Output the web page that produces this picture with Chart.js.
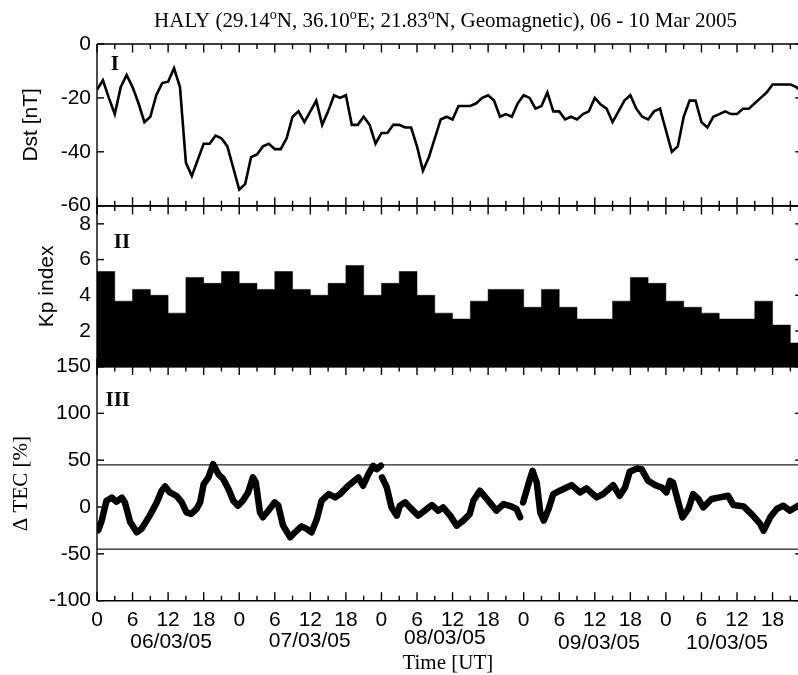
<!DOCTYPE html>
<html><head><meta charset="utf-8">
<script src="https://cdn.jsdelivr.net/npm/chart.js@4/dist/chart.umd.min.js"></script>
<style>
html,body{margin:0;padding:0;background:#fff;overflow:hidden;width:798px;height:675px}
#wrap{position:relative;width:810px;height:675px}
canvas{position:absolute;left:0;top:0}
</style></head><body>
<div id="wrap">
<canvas id="c1" width="810" height="675"></canvas>
<canvas id="c2" width="810" height="675"></canvas>
<canvas id="c3" width="810" height="675"></canvas>
</div>
<script>
// ---------- DATA ----------
// Dst [nT], hourly from 06/03/05 00 UT
const dstValues = [
 -17,-13.5,-20,-26,-16,-11.5,-16,-22,-29,-27,-19,-14.5,-14,-9,-16,-44,-49,-43,-37,-37,-34,-35,-38,-46,
 -54,-52,-42,-41,-38,-37,-39,-39,-35,-27,-25,-29,-25,-21,-30,-25,-19,-20,-19,-30,-30,-27,-30,-37,
 -33,-33,-30,-30,-31,-31,-38,-47,-42,-35,-28,-27,-28,-23,-23,-23,-22,-20,-19,-21,-27,-26,-27,-22,
 -19,-20,-24,-23,-18,-25,-25,-28,-27,-28,-26,-25,-20,-22.5,-24,-29,-25,-21,-19,-24,-27,-28,-25,-24,
 -32,-40,-38,-27,-21,-21,-29,-31,-27,-26,-25,-26,-26,-24,-24,-22,-20,-18,-15,-15,-15,-15,-16,-18
];
const dstHours = dstValues.map((v, i) => i);
const dstTicks = [0, -20, -40, -60];

// Kp index, 3-hourly bins
const kpValues = [
 5.33,3.67,4.33,4,3,5,4.67,5.33,
 4.67,4.33,5.33,4.33,4,4.67,5.67,4,
 4.67,5.33,4,3,2.67,3.67,4.33,4.33,
 3.33,4.33,3.33,2.67,2.67,3.67,5,4.67,
 3.67,3.33,3,2.67,2.67,3.67,2.33,1.33
];
const kpStartHours = kpValues.map((v, i) => 3 * i);
const kpTicks = [0, 2, 4, 6, 8];

// Delta TEC [%]
const tecHours = [
 0,0.2,0.8,1.6,2.5,3.3,4.2,4.7,5.6,6.7,7.5,8.9,10.1,10.9,11.5,12.3,13.4,14.3,15.1,15.9,16.8,17.4,
 18,18.8,19.6,20.5,21.3,22.2,23,23.8,24.6,25.5,26.3,26.8,27.5,28,28.9,30,30.6,31.4,32.6,33.4,34.5,
 35.4,36.2,37.1,37.9,39.1,40.2,41,42.4,44.1,44.9,45.8,46.6,47.2,47.9,48,
 48.1,48.9,49.7,50.6,51.1,52,52.8,54.2,55.3,56.5,57.6,58.4,59.6,60.7,61.8,62.9,63.5,64.6,65.8,
 67.4,68.6,70,70.8,71.4,71.6,
 71.9,72.8,73.5,74.2,74.8,75.4,76.2,77,78.1,80.1,81.5,82.6,84.3,85.4,87.1,88.2,89.1,89.9,91.1,
 91.9,93,94.2,95.3,96.1,96.7,97.2,98.1,98.8,99.8,100.6,101.5,102.3,103.7,105.1,106.5,107.4,109.1,
 110.7,111.9,112.5,113.6,114.7,115.8,116.9,118.3,119
];
const tecValues = [
 -20,-25,-14.5,6.7,10,5.7,10,5,-16,-27,-23.4,-9.2,5,17.4,22,15.6,12,5,-5.7,-7.4,-2.1,5,
 24.5,31.6,45.7,35,29.8,19,6.7,1.4,6.7,15.6,31.6,26.2,-5.7,-11,-3.9,5,1.4,-19.9,-32.3,-27,-20.6,
 -23.4,-27,-12.8,6.7,13.8,10.3,13.8,22.7,31.6,22.7,35.1,44,40.4,44,null,
 31.6,20.9,-0.4,-9.2,1.4,5,-0.4,-9.2,-3.9,2.1,-3.9,-0.4,-9.2,-19.9,-14.5,-7.4,6.7,17.4,8.5,
 -3.9,3.2,0.4,-2.1,-11,null,
 5,24.5,38.7,26.2,-5.7,-14.5,-2.1,13.8,17.4,23.4,15.6,19.9,10.3,13.8,23.4,12,20.9,37.6,41.1,
 40.4,28,23.4,20.9,15.6,28,26.2,5,-11,-2.1,13.8,8.5,-0.4,8.5,10.3,12,2.1,0.7,
 -9.2,-18.1,-25.2,-11,-2.1,1.4,-3.9,1.4,-3
];
const tecThresholds = [45, -45];
const tecTicks = [-100, -50, 0, 50, 100, 150];

const X_MAX = 119;
const xMinorTickHours = [];
for (let h = 0; h <= X_MAX; h += 3) xMinorTickHours.push(h);

const dateLabels = ['06/03/05','07/03/05','08/03/05','09/03/05','10/03/05'];
const dateLabelHours = [12.5, 35.9, 58.7, 84.7, 106.3];
const dateLabelY = [642.7, 641.7, 638.3, 643.3, 643.3];

// ---------- STYLE ----------
const SANS = "'Liberation Sans', Arial, sans-serif";
const SERIF = "'Liberation Serif', 'Times New Roman', serif";
const LEFT = 97;            // chart area left edge
const RIGHT_PAD = 810 - 802.2;

function frameAndTicks(id, label, labelPos, yTickVals) {
  return {
    id: id,
    afterDraw(chart) {
      const ctx = chart.ctx;
      const a = chart.chartArea;
      const xs = chart.scales.x, ys = chart.scales.y;
      ctx.save();
      ctx.strokeStyle = '#000';
      ctx.lineWidth = 1.4;
      const seg = (x1, y1, x2, y2) => { ctx.beginPath(); ctx.moveTo(x1, y1); ctx.lineTo(x2, y2); ctx.stroke(); };
      seg(a.left, a.top, a.right, a.top);
      seg(a.left, a.bottom, a.right, a.bottom);
      seg(a.left, a.top, a.left, a.bottom);
      seg(a.right, a.top, a.right, a.bottom);
      xMinorTickHours.forEach(h => {
        const px = xs.getPixelForValue(h);
        const len = h % 6 === 0 ? 8.5 : 5;
        seg(px, a.bottom, px, a.bottom - len);
        seg(px, a.top, px, a.top + len);
      });
      yTickVals.forEach(v => {
        const py = ys.getPixelForValue(v);
        seg(a.left, py, a.left + 7, py);
        seg(a.right, py, a.right - 7, py);
      });
      ctx.fillStyle = '#000';
      ctx.font = 'bold 21px ' + SERIF;
      ctx.textAlign = 'center';
      ctx.textBaseline = 'middle';
      ctx.fillText(label, xs.getPixelForValue(labelPos[0]), ys.getPixelForValue(labelPos[1]));
      ctx.restore();
    }
  };
}

function yAxis(min, max, step, title, titleFont, titlePad, cb) {
  return {
    type: 'linear', position: 'left', min: min, max: max,
    grid: {display: false, drawTicks: false},
    border: {display: false},
    ticks: {stepSize: step, includeBounds: false, autoSkip: false, padding: 6,
            color: '#000', font: {family: SANS, size: 21}, callback: cb || (v => String(v))},
    title: {display: true, text: title, color: '#000', font: titleFont, padding: {top: titlePad, bottom: 0}},
    afterFit(s) { s.width = LEFT; }
  };
}

function hiddenX() {
  return {type: 'linear', min: 0, max: X_MAX, display: false};
}

// ---------- PANEL I : Dst ----------
const titlePlugin = {
  id: 'richTitle',
  afterDraw(chart) {
    const ctx = chart.ctx;
    const parts = [['HALY (29.14',0],['o',1],['N, 36.10',0],['o',1],['E; 21.83',0],['o',1],['N, Geomagnetic), 06 - 10 Mar 2005',0]];
    const big = '21px ' + SERIF, small = '14px ' + SERIF;
    ctx.save();
    let w = 0;
    parts.forEach(p => { ctx.font = p[1] ? small : big; w += ctx.measureText(p[0]).width; });
    let x = 445.5 - w / 2;
    ctx.fillStyle = '#000';
    ctx.textBaseline = 'alphabetic';
    ctx.textAlign = 'left';
    parts.forEach(p => {
      ctx.font = p[1] ? small : big;
      ctx.fillText(p[0], x, p[1] ? 19 : 27);
      x += ctx.measureText(p[0]).width;
    });
    ctx.restore();
  }
};

new Chart(document.getElementById('c1'), {
  type: 'line',
  data: {datasets: [{
    data: dstHours.map((h, i) => ({x: h, y: dstValues[i]})),
    borderColor: '#000', borderWidth: 2.6, pointRadius: 0, tension: 0, fill: false
  }]},
  options: {
    responsive: false, animation: false, devicePixelRatio: 1,
    layout: {padding: {top: 44, bottom: 675 - 205.7, left: 0, right: RIGHT_PAD}},
    plugins: {legend: {display: false}, tooltip: {enabled: false}},
    scales: {
      x: hiddenX(),
      y: yAxis(-60, 0, 20, 'Dst [nT]', {family: SANS, size: 21}, 18.4)
    }
  },
  plugins: [frameAndTicks('f1', 'I', [3.0, -7.8], dstTicks), titlePlugin]
});

// ---------- PANEL II : Kp ----------
const kpPoints = kpStartHours.map((h, i) => ({x: h, y: kpValues[i]}));
kpPoints.push({x: kpStartHours[kpStartHours.length - 1] + 3, y: kpValues[kpValues.length - 1]});

new Chart(document.getElementById('c2'), {
  type: 'line',
  data: {datasets: [{
    data: kpPoints,
    stepped: 'before',
    borderColor: '#000', borderWidth: 0.5, pointRadius: 0,
    backgroundColor: '#000', fill: 'origin'
  }]},
  options: {
    responsive: false, animation: false, devicePixelRatio: 1,
    layout: {padding: {top: 206, bottom: 675 - 366.7, left: 0, right: RIGHT_PAD}},
    plugins: {legend: {display: false}, tooltip: {enabled: false}, filler: {propagate: false}},
    scales: {
      x: hiddenX(),
      y: yAxis(0, 9, 2, 'Kp index', {family: SANS, size: 21}, 34.4, v => v === 0 ? '' : String(v))
    }
  },
  plugins: [frameAndTicks('f2', 'II', [4.2, 6.95], kpTicks)]
});

// ---------- PANEL III : Delta TEC ----------
const bottomText = {
  id: 'bottomText',
  afterDraw(chart) {
    const ctx = chart.ctx, xs = chart.scales.x;
    ctx.save();
    ctx.fillStyle = '#000';
    ctx.textAlign = 'center';
    ctx.textBaseline = 'middle';
    ctx.font = '21px ' + SANS;
    dateLabels.forEach((t, i) => ctx.fillText(t, xs.getPixelForValue(dateLabelHours[i]), dateLabelY[i]));
    ctx.font = '21px ' + SERIF;
    ctx.fillText('Time [UT]', xs.getPixelForValue(59.2), 663);
    ctx.restore();
  }
};

new Chart(document.getElementById('c3'), {
  type: 'line',
  data: {datasets: [
    {
      data: tecHours.map((h, i) => ({x: h, y: tecValues[i]})),
      borderColor: '#000', borderWidth: 6.5, pointRadius: 0, tension: 0, fill: false,
      spanGaps: false, borderJoinStyle: 'round', borderCapStyle: 'round'
    },
    {
      data: [{x: 0, y: tecThresholds[0]}, {x: X_MAX, y: tecThresholds[0]}],
      borderColor: '#222', borderWidth: 1.3, pointRadius: 0, fill: false
    },
    {
      data: [{x: 0, y: tecThresholds[1]}, {x: X_MAX, y: tecThresholds[1]}],
      borderColor: '#222', borderWidth: 1.3, pointRadius: 0, fill: false
    }
  ]},
  options: {
    responsive: false, animation: false, devicePixelRatio: 1,
    layout: {padding: {top: 366.5, bottom: 0, left: 0, right: RIGHT_PAD}},
    plugins: {legend: {display: false}, tooltip: {enabled: false}},
    scales: {
      x: {
        type: 'linear', position: 'bottom', min: 0, max: X_MAX,
        grid: {display: false, drawTicks: false}, border: {display: false},
        ticks: {stepSize: 6, includeBounds: false, autoSkip: false, maxRotation: 0, padding: 6.5,
                color: '#000', font: {family: SANS, size: 21}, callback: v => String(v % 24)},
        afterFit(s) { s.height = 675 - 600.7; }
      },
      y: yAxis(-100, 150, 50, '\u0394 TEC [%]', {family: SERIF, size: 21}, 8.4)
    }
  },
  plugins: [frameAndTicks('f3', 'III', [3.5, 114], tecTicks), bottomText]
});
</script>
</body></html>
